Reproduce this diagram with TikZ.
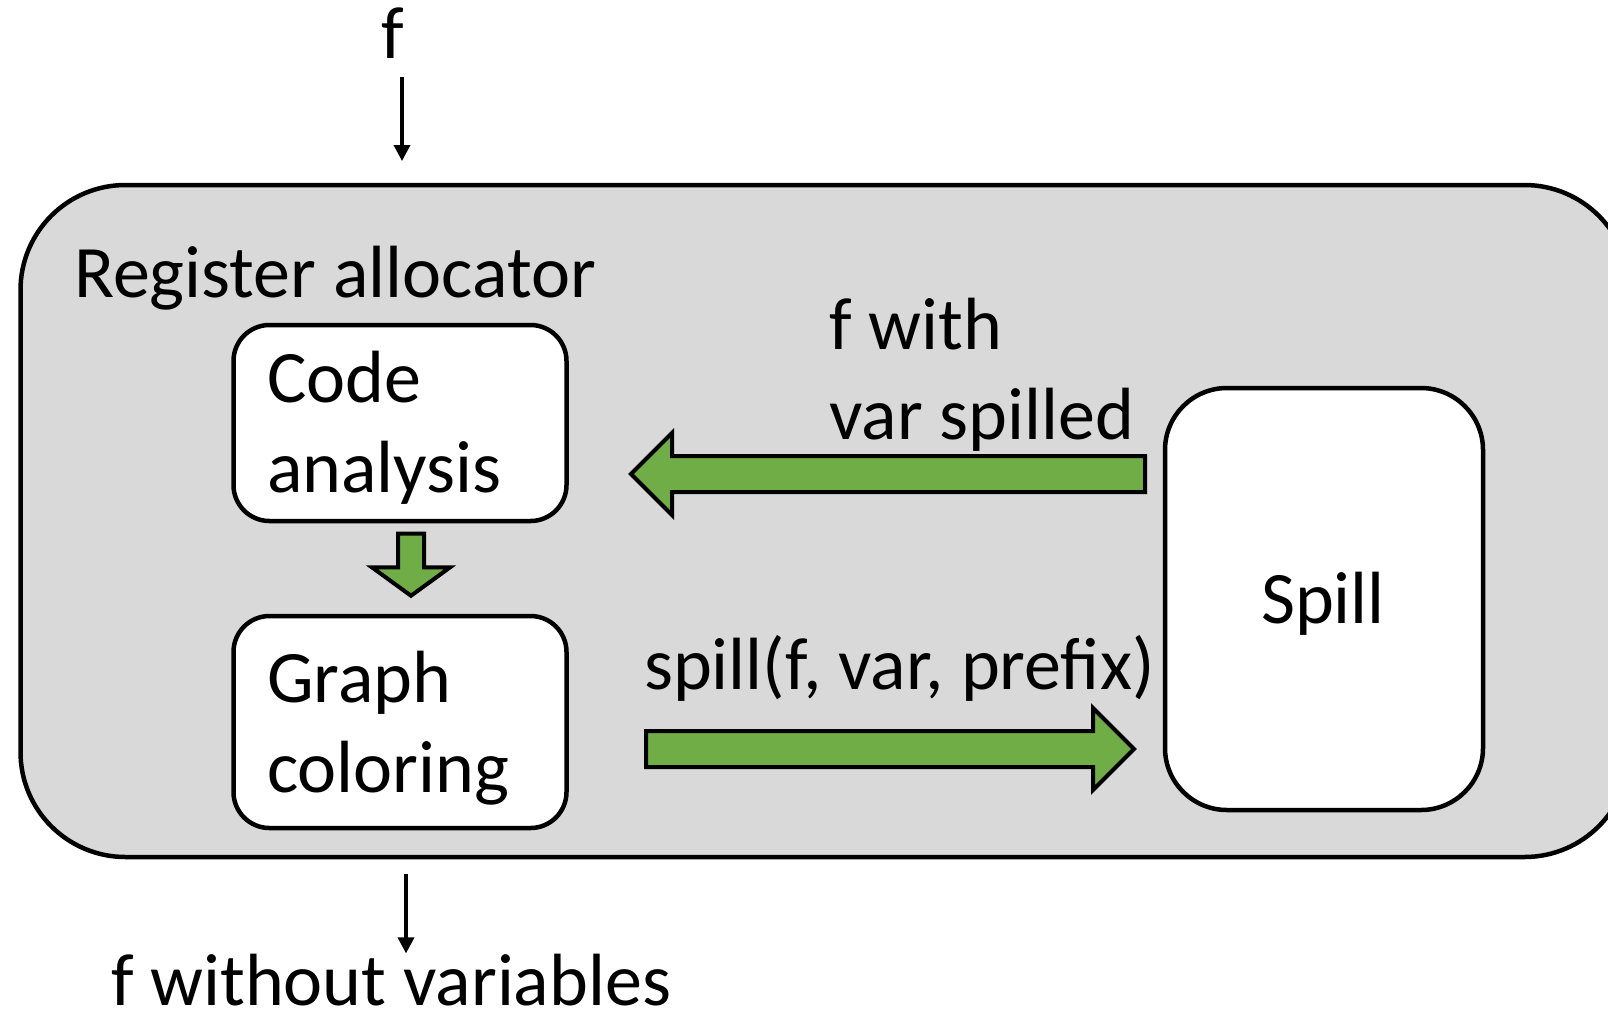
\documentclass[tikz,border=0pt]{standalone}
\usepackage{fontspec}
\setmainfont{Carlito}
\usetikzlibrary{positioning,arrows.meta,shapes.arrows}
\definecolor{boxgray}{HTML}{D9D9D9}
\definecolor{flowgreen}{HTML}{70AD47}
\tikzset{
  big text/.style={font=\fontsize{74}{90}\selectfont, inner sep=0pt, align=left},
  stage box/.style={draw, line width=4.5pt, rounded corners=36pt, fill=white,
    minimum width=333pt, inner sep=0pt},
  flow arrow/.style={single arrow, draw, line width=4pt, fill=flowgreen,
    inner sep=16pt, single arrow head extend=23pt, minimum width=78pt},
  thin arrow/.style={-{Triangle[length=16pt,width=16pt]}, line width=3.5pt}
}
\begin{document}
\begin{tikzpicture}[x=1pt, y=-1pt]
  \useasboundingbox (0,0) rectangle (1608,1013);

  % Outer block
  \node[draw, line width=4.5pt, fill=boxgray, rounded corners=105pt,
        minimum width=1609pt, minimum height=672pt, inner sep=0pt] (alloc) at (825,521) {};
  \node[big text, anchor=base west] (alloctitle) at (74,297) {Register allocator};

  % Stages
  \node[stage box, minimum height=196pt] (code) at (400,423) {};
  \node[stage box, minimum height=212pt] (graph) at (400,722) {};
  \node[stage box, minimum width=318pt, minimum height=422pt, rounded corners=62pt] (spill) at (1324,599) {};
  \node[big text, anchor=base west] (codetext) at (267,492) {Code\\analysis};
  \node[big text, anchor=base west] (graphtext) at (267,792) {Graph\\coloring};
  \node[big text, anchor=base] (spilltext) at (1323,623) {Spill};

  % Block arrows
  \node[flow arrow, inner sep=11pt, minimum height=62pt, minimum width=76pt, single arrow head extend=26pt,
        single arrow tip angle=108, shape border rotate=270] (codetograph) at (411,560) {};
  \node[flow arrow, minimum height=514pt, shape border rotate=180] (spilltocode) at (897,474) {};
  \node[flow arrow, minimum height=488pt] (graphtospill) at (881,749) {};

  % Arrow labels
  \node[big text, anchor=base west] (withlabel) at (829,439) {f with\\var spilled};
  \node[big text, anchor=base west] (calllabel) at (644,689) {spill(f, var, prefix)};

  % Input and output
  \node[big text, anchor=base] (in) at (393,58) {f};
  \coordinate (inend) at (402,161);
  \draw[thin arrow] ([xshift=9pt,yshift=-19pt]in.south) -- (inend);
  \node[big text, anchor=base west] (out) at (111,1005) {f without variables};
  \coordinate (outstart) at (406,874);
  \draw[thin arrow] (outstart) -- (outstart |- out.north);
\end{tikzpicture}
\end{document}
